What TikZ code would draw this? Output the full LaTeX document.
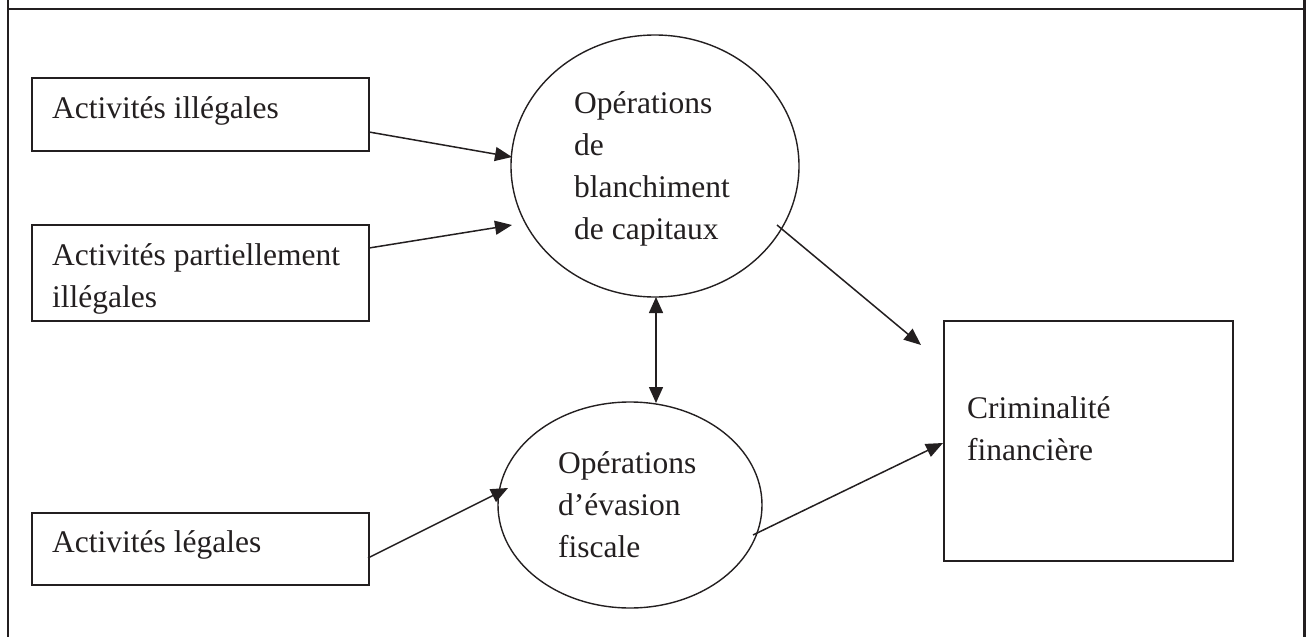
\documentclass[tikz,border=0pt]{standalone}
\usepackage{fontspec}
\setmainfont{Liberation Serif}
\usetikzlibrary{arrows.meta,shapes.geometric}
\definecolor{ink}{RGB}{35,31,32}
\begin{document}
\begin{tikzpicture}[x=1pt,y=-1pt,
  actbox/.style={draw=ink, line width=1.4pt, rectangle, inner sep=0pt},
  opellipse/.style={draw=ink, line width=1.4pt, ellipse, inner sep=0pt},
  txt/.style={anchor=base west, inner sep=0pt, text=ink,
    font=\fontsize{31.5}{42}\selectfont},
  tip/.style={},
  flow/.style={draw=ink, line width=1.5pt, -{Triangle[length=17pt,width=14pt]}},
  bothflow/.style={draw=ink, line width=1.5pt,
    {Triangle[length=16pt,width=14pt]}-{Triangle[length=16pt,width=14pt]}},
  rule/.style={draw=ink}
]
\useasboundingbox (0,0) rectangle (1309,637);

% table cell borders
\draw[rule, line width=2.6pt] (8,0) -- (8,637);
\draw[rule, line width=3.2pt] (1304.5,0) -- (1304.5,637);
\draw[rule, line width=2.6pt] (8,9) -- (1304.5,9);

% activity boxes
\node[actbox, minimum width=337pt, minimum height=73pt] (illeg) at (200.5,114.5) {};
\node[actbox, minimum width=337pt, minimum height=96pt] (partiel) at (200.5,273) {};
\node[actbox, minimum width=337pt, minimum height=72pt] (legal) at (200.5,549) {};
\node[actbox, minimum width=289pt, minimum height=240pt] (crime) at (1088.5,441) {};

% operations
\node[opellipse, minimum width=288pt, minimum height=262pt] (blanch) at (655,166) {};
\node[opellipse, minimum width=264pt, minimum height=206pt] (evasion) at (630,505) {};

% labels
\node[txt] (tilleg) at (52,118) {Activités illégales};
\node[txt] (tpartiel) at (52,265) {\begin{tabular}[t]{@{}l@{}}Activités partiellement\\illégales\end{tabular}};
\node[txt] (tlegal) at (52,552) {Activités légales};
\node[txt] (tblanch) at (574,113) {\begin{tabular}[t]{@{}l@{}}Opérations\\de\\blanchiment\\de capitaux\end{tabular}};
\node[txt] (tevasion) at (558,473) {\begin{tabular}[t]{@{}l@{}}Opérations\\d’évasion\\fiscale\end{tabular}};
\node[txt] (tcrime) at (967,418) {\begin{tabular}[t]{@{}l@{}}Criminalité\\financière\end{tabular}};

% connector end points
\coordinate (illegOut) at (369,132);
\coordinate (blanchInA) at (512,157);
\coordinate (partielOut) at (369,248);
\coordinate (blanchInB) at (512,225);
\coordinate (legalOut) at (368,558);
\coordinate (evasionIn) at (508,488);
\coordinate (blanchOut) at (777,225);
\coordinate (crimeInA) at (921,345);
\coordinate (evasionOut) at (753,535);
\coordinate (crimeInB) at (943,443);
\coordinate (blanchBottom) at (656,297);
\coordinate (evasionTop) at (656,403);

% flows
\draw[flow] (illegOut) -- (blanchInA);
\draw[flow] (partielOut) -- (blanchInB);
\draw[flow] (legalOut) -- (evasionIn);
\draw[flow] (blanchOut) -- (crimeInA);
\draw[flow] (evasionOut) -- (crimeInB);
\draw[bothflow] (blanchBottom) -- (evasionTop);
\end{tikzpicture}
\end{document}
